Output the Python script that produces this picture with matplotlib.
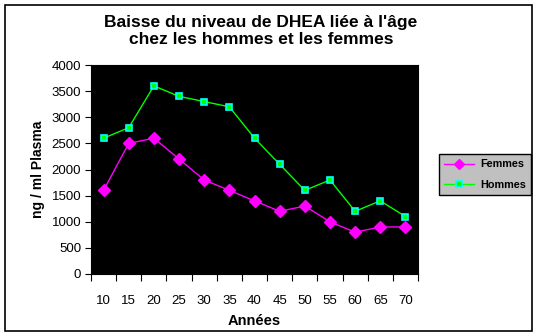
import matplotlib
matplotlib.use("Agg")
import matplotlib.pyplot as plt
from matplotlib.patches import Rectangle
from matplotlib.ticker import FixedLocator, NullFormatter, FixedFormatter

ages = ["10", "15", "20", "25", "30", "35", "40", "45", "50", "55", "60", "65", "70"]
femmes = [1600, 2500, 2600, 2200, 1800, 1600, 1400, 1200, 1300, 1000, 800, 900, 900]
hommes = [2600, 2800, 3600, 3400, 3300, 3200, 2600, 2100, 1600, 1800, 1200, 1400, 1100]
y_ticks = [0, 500, 1000, 1500, 2000, 2500, 3000, 3500, 4000]

plt.rcParams["font.family"] = ["Liberation Sans", "DejaVu Sans"]

fig = plt.figure(figsize=(5.37, 3.36), dpi=100)
fig.patch.set_facecolor("white")
fig.patches.append(Rectangle((5 / 537, 5 / 336), 527 / 537, 326 / 336,
                             transform=fig.transFigure, fill=False,
                             edgecolor="black", linewidth=1.2))

ax = fig.add_axes([91 / 537, 1 - 274 / 336, 327 / 537, 209 / 336])
ax.set_facecolor("black")

x = list(range(len(ages)))
ax.plot(x, femmes, color="#FF00FF", linewidth=1, marker="D", markersize=6,
        markerfacecolor="#FF00FF", markeredgecolor="#FF00FF", label="Femmes")
ax.plot(x, hommes, color="#00FF00", linewidth=1, marker="s", markersize=5,
        markerfacecolor="#00FF00", markeredgecolor="#00FFFF", markeredgewidth=1.2,
        label="Hommes")

ax.set_xlim(-0.5, len(ages) - 0.5)
ax.set_ylim(0, 4000)
ax.set_yticks(y_ticks)
ax.tick_params(axis="y", labelsize=9.5, length=4, direction="out", pad=3)

ax.xaxis.set_major_locator(FixedLocator([i - 0.5 for i in range(len(ages) + 1)]))
ax.xaxis.set_major_formatter(NullFormatter())
ax.xaxis.set_minor_locator(FixedLocator(x))
ax.xaxis.set_minor_formatter(FixedFormatter(ages))
ax.tick_params(axis="x", which="major", length=5, direction="out")
ax.tick_params(axis="x", which="minor", length=0, labelsize=9.5, pad=15)

for s in ax.spines.values():
    s.set_color("black")

ax.set_xlabel("Années", fontsize=10.5, fontweight="bold", labelpad=5)
ax.set_ylabel("ng / ml Plasma", fontsize=10, fontweight="bold", labelpad=5)

fig.text(261 / 537, 1 - 31 / 336, "Baisse du niveau de DHEA liée à l'âge\nchez les hommes et les femmes",
         ha="center", va="center", fontsize=12.5, fontweight="bold", linespacing=1.12)

leg = fig.legend(loc="upper left", bbox_to_anchor=(439 / 537, 1 - 154 / 336),
                 borderaxespad=0, frameon=True, fancybox=False,
                 prop={"size": 7.8, "weight": "bold"}, markerscale=0.9,
                 handlelength=2.7, borderpad=0.5, labelspacing=0.95, handletextpad=0.6)
leg.get_frame().set_facecolor("#C0C0C0")
leg.get_frame().set_edgecolor("black")
leg.get_frame().set_alpha(1)
leg.get_frame().set_linewidth(1)

fig.savefig("out.png", dpi=100)
